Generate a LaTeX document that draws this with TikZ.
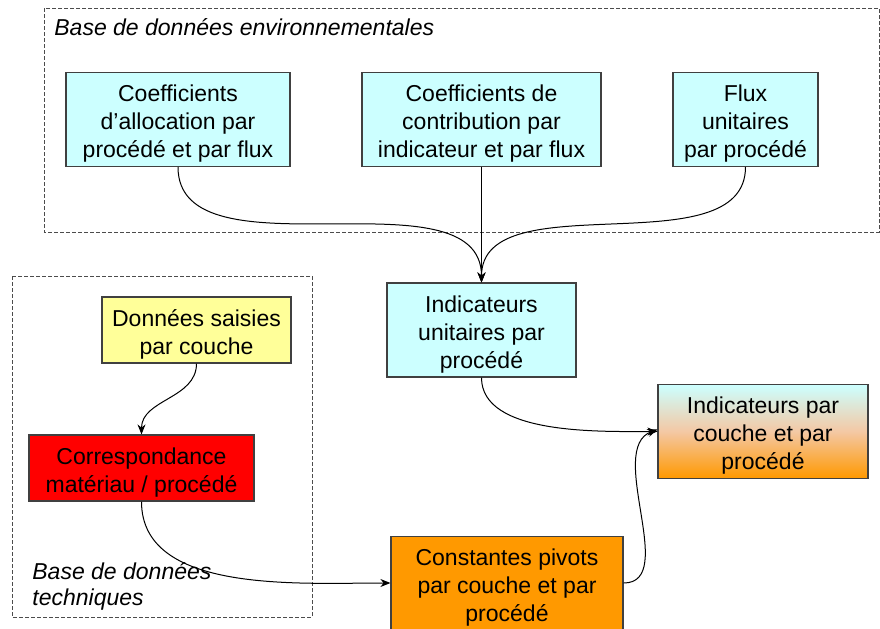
\documentclass[tikz,border=0pt]{standalone}
\usepackage{fontspec}
\setmainfont{Liberation Sans}
\usetikzlibrary{arrows.meta}

\definecolor{bleuclair}{HTML}{CCFFFF}
\definecolor{jaunepale}{HTML}{FFFF99}
\definecolor{orangevif}{HTML}{FF9900}
\definecolor{peche}{HTML}{F4C8A4}
\newcommand{\haut}{\rule{0pt}{12.5pt}}

\begin{document}
\begin{tikzpicture}[x=0.5pt,y=-0.5pt]
\tikzstyle{every node}+=[font=\fontsize{11.5}{14}\selectfont]
\tikzstyle{boite}=[draw=black!75,line width=0.6pt,align=center,inner sep=2pt]
\tikzstyle{cadre}=[draw=black!70,line width=0.5pt,dash pattern=on 2pt off 1pt]
\tikzstyle{titre}=[inner sep=0pt,font=\fontsize{11.5}{13}\selectfont\itshape]
\tikzstyle{fleche}=[line width=0.5pt,-{Stealth[length=5pt,width=4pt]}]
\useasboundingbox (0,0) rectangle (880,628);
% cadres en pointilles
\draw [cadre] (44,8) rectangle (879,232);
\node [titre,anchor=west] (envlabel) at (54,27) {Base de données environnementales};
\draw [cadre] (12,276) rectangle (312,617);
\node [titre,anchor=west,align=left] (techlabel) at (32,586) {Base de données\\techniques};
% boites
\node [boite,fill=bleuclair,minimum width=112pt,minimum height=46.5pt] (alloc) at (178,119.5) {\haut Coefficients\\d’allocation par\\procédé et par flux};
\node [boite,fill=bleuclair,minimum width=119.5pt,minimum height=46.5pt] (contrib) at (481.5,119.5) {\haut Coefficients de\\contribution par\\indicateur et par flux};
\node [boite,fill=bleuclair,minimum width=72.5pt,minimum height=46.5pt] (flux) at (745.5,119.5) {\haut Flux\\unitaires\\par procédé};
\node [boite,fill=bleuclair,minimum width=94.5pt,minimum height=47pt] (unit) at (481.5,330) {\haut Indicateurs\\unitaires par\\procédé};
\node [boite,top color=bleuclair,bottom color=orangevif,middle color=peche,minimum width=105pt,minimum height=46.5pt] (couche) at (763,431.5) {\haut Indicateurs par\\couche et par\\procédé};
\node [boite,fill=orangevif,minimum width=116pt,minimum height=46pt] (pivots) at (507,583) {\haut Constantes pivots\\par couche et par\\procédé};
\node [boite,fill=jaunepale,minimum width=94.5pt,minimum height=33pt] (saisie) at (196.5,330) {\haut Données saisies\\par couche};
\node [boite,fill=red,minimum width=112.5pt,minimum height=33pt] (corresp) at (141.5,468) {\haut Correspondance\\matériau / procédé};
% fleches
\draw [fleche] (alloc.south) to[out=-90,in=90,looseness=0.9] (unit.north);
\draw [fleche] (contrib.south) -- (unit.north);
\draw [fleche] (flux.south) to[out=-90,in=90,looseness=0.9] (unit.north);
\draw [fleche] (unit.south) to[out=-90,in=180,looseness=0.8] (couche.west);
\draw [fleche] (pivots.east) to[out=0,in=-160,looseness=0.9] ([yshift=1pt]couche.west);
\draw [fleche] (saisie.south) to[out=-90,in=90] (corresp.north);
\draw [fleche] (corresp.south) to[out=-90,in=180,looseness=0.9] (pivots.west);
\end{tikzpicture}
\end{document}
